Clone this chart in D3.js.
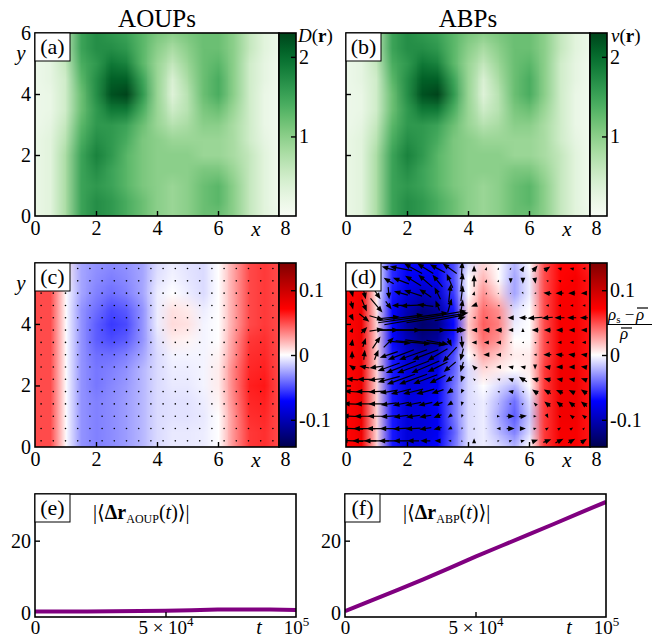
<!DOCTYPE html>
<html>
<head>
<meta charset="utf-8">
<script src="https://cdn.jsdelivr.net/npm/d3@7"></script>
<style>
  body { margin: 0; background: #fff; }
  svg { display: block; }
  text { font-family: "Liberation Serif", "DejaVu Serif", serif; fill: #000; }
</style>
</head>
<body>
<div id="chart"></div>
<script>
// ---------- data ----------
// heat-map nodes (x from 0 to 8, y from 6 down to 0, step 0.5)
var gridX = [0, 0.5, 1, 1.5, 2, 2.5, 3, 3.5, 4, 4.5, 5, 5.5, 6, 6.5, 7, 7.5, 8];
var gridY = [6, 5.5, 5, 4.5, 4, 3.5, 3, 2.5, 2, 1.5, 1, 0.5, 0];

// D(r) for the AOUPs, panel (a)
var diffusivityAOUP = [
  [0.2, 0.3, 0.7, 1.5, 1.7, 1.6, 1.5, 1.3, 1.1, 1.0, 1.1, 1.2, 1.2, 1.0, 0.6, 0.3, 0.15],
  [0.2, 0.3, 0.7, 1.5, 1.7, 1.7, 1.6, 1.3, 1.0, 0.8, 1.0, 1.2, 1.2, 1.0, 0.6, 0.3, 0.15],
  [0.15, 0.25, 0.6, 1.4, 1.6, 1.9, 1.8, 1.3, 0.9, 0.6, 0.9, 1.2, 1.3, 1.0, 0.5, 0.25, 0.1],
  [0.15, 0.25, 0.5, 1.3, 1.7, 2.1, 2.1, 1.5, 0.9, 0.4, 0.8, 1.2, 1.4, 1.0, 0.5, 0.25, 0.1],
  [0.15, 0.2, 0.5, 1.2, 1.7, 2.2, 2.3, 1.6, 0.9, 0.35, 0.7, 1.2, 1.4, 1.0, 0.5, 0.2, 0.1],
  [0.15, 0.2, 0.5, 1.2, 1.6, 1.9, 1.9, 1.4, 0.9, 0.5, 0.7, 1.1, 1.2, 0.9, 0.5, 0.2, 0.1],
  [0.15, 0.25, 0.6, 1.3, 1.6, 1.6, 1.5, 1.2, 0.9, 0.7, 0.8, 1.0, 1.0, 0.8, 0.5, 0.2, 0.1],
  [0.2, 0.3, 0.7, 1.4, 1.7, 1.6, 1.4, 1.1, 1.0, 0.9, 0.9, 0.9, 0.9, 0.8, 0.5, 0.25, 0.1],
  [0.2, 0.3, 0.8, 1.5, 1.8, 1.6, 1.3, 1.1, 1.0, 1.0, 1.0, 0.9, 0.9, 0.8, 0.6, 0.3, 0.1],
  [0.2, 0.3, 0.8, 1.5, 1.7, 1.5, 1.3, 1.1, 1.0, 1.0, 1.0, 1.1, 1.1, 0.9, 0.6, 0.3, 0.1],
  [0.2, 0.3, 0.8, 1.5, 1.6, 1.5, 1.3, 1.1, 1.0, 0.9, 1.0, 1.2, 1.3, 1.0, 0.6, 0.3, 0.1],
  [0.2, 0.3, 0.8, 1.5, 1.7, 1.6, 1.4, 1.2, 1.0, 0.9, 1.0, 1.2, 1.3, 1.0, 0.6, 0.3, 0.1],
  [0.2, 0.3, 0.8, 1.5, 1.7, 1.6, 1.4, 1.2, 1.0, 0.9, 1.0, 1.2, 1.2, 1.0, 0.6, 0.3, 0.15]
];
// v(r) for the ABPs, panel (b): looks the same as D(r) in the picture
var speedABP = diffusivityAOUP;

// (rho_s - rho)/rho, panel (c)
var densityAOUP = [
  [0.05, 0.05, 0.005, -0.025, -0.03, -0.032, -0.03, -0.025, -0.01, -0.005, -0.008, -0.01, 0.0, 0.025, 0.05, 0.055, 0.05],
  [0.05, 0.05, 0.003, -0.025, -0.032, -0.036, -0.032, -0.025, -0.008, -0.003, -0.007, -0.01, 0.0, 0.025, 0.05, 0.055, 0.05],
  [0.05, 0.05, 0.0, -0.025, -0.035, -0.04, -0.035, -0.025, -0.005, 0.0, -0.005, -0.01, 0.0, 0.025, 0.05, 0.055, 0.05],
  [0.05, 0.05, 0.0, -0.03, -0.04, -0.05, -0.045, -0.03, -0.005, 0.008, 0.005, -0.005, 0.0, 0.025, 0.05, 0.055, 0.05],
  [0.05, 0.05, 0.0, -0.03, -0.045, -0.055, -0.05, -0.03, -0.005, 0.01, 0.008, -0.003, 0.0, 0.025, 0.05, 0.055, 0.05],
  [0.05, 0.05, 0.0, -0.03, -0.045, -0.05, -0.045, -0.03, -0.008, 0.005, 0.003, -0.003, 0.0, 0.028, 0.055, 0.058, 0.05],
  [0.05, 0.05, 0.0, -0.03, -0.04, -0.04, -0.035, -0.025, -0.01, -0.003, -0.003, -0.003, 0.003, 0.03, 0.058, 0.06, 0.05],
  [0.05, 0.05, 0.0, -0.03, -0.038, -0.035, -0.03, -0.02, -0.01, -0.005, -0.005, -0.003, 0.005, 0.035, 0.06, 0.062, 0.05],
  [0.05, 0.05, 0.0, -0.03, -0.038, -0.033, -0.028, -0.02, -0.01, -0.006, -0.006, -0.003, 0.005, 0.035, 0.062, 0.065, 0.05],
  [0.05, 0.05, 0.0, -0.03, -0.035, -0.032, -0.027, -0.02, -0.01, -0.008, -0.008, -0.005, 0.003, 0.033, 0.06, 0.062, 0.05],
  [0.05, 0.05, 0.0, -0.03, -0.035, -0.032, -0.027, -0.02, -0.01, -0.008, -0.008, -0.006, 0.0, 0.03, 0.058, 0.06, 0.05],
  [0.05, 0.05, 0.0, -0.03, -0.035, -0.032, -0.027, -0.02, -0.01, -0.006, -0.006, -0.005, 0.0, 0.03, 0.055, 0.058, 0.05],
  [0.05, 0.05, 0.0, -0.03, -0.035, -0.032, -0.027, -0.02, -0.01, -0.006, -0.006, -0.005, 0.0, 0.03, 0.055, 0.058, 0.05]
];

// (rho_s - rho)/rho, panel (d)
var densityABP = [
  [0.07, 0.07, 0.0, -0.06, -0.07, -0.07, -0.07, -0.05, -0.01, 0.01, 0.0, -0.02, 0.0, 0.05, 0.07, 0.07, 0.06],
  [0.07, 0.075, 0.0, -0.06, -0.075, -0.08, -0.075, -0.05, 0.0, 0.02, 0.0, -0.025, -0.005, 0.05, 0.07, 0.075, 0.065],
  [0.07, 0.075, 0.0, -0.065, -0.085, -0.095, -0.09, -0.055, 0.0, 0.03, 0.01, -0.025, -0.005, 0.05, 0.072, 0.075, 0.065],
  [0.07, 0.08, 0.005, -0.07, -0.1, -0.12, -0.11, -0.065, 0.01, 0.04, 0.03, -0.01, 0.0, 0.05, 0.075, 0.075, 0.065],
  [0.07, 0.08, 0.01, -0.07, -0.11, -0.13, -0.12, -0.07, 0.015, 0.045, 0.035, -0.005, 0.0, 0.05, 0.075, 0.075, 0.065],
  [0.07, 0.08, 0.01, -0.07, -0.1, -0.12, -0.11, -0.065, 0.01, 0.04, 0.03, 0.0, 0.0, 0.05, 0.075, 0.075, 0.065],
  [0.07, 0.08, 0.01, -0.065, -0.09, -0.1, -0.09, -0.05, 0.0, 0.025, 0.015, 0.005, 0.005, 0.05, 0.075, 0.075, 0.065],
  [0.07, 0.08, 0.01, -0.065, -0.085, -0.09, -0.08, -0.045, -0.01, 0.01, 0.005, 0.0, 0.005, 0.055, 0.078, 0.078, 0.065],
  [0.07, 0.08, 0.01, -0.065, -0.085, -0.085, -0.075, -0.04, -0.01, 0.0, -0.01, -0.02, 0.0, 0.055, 0.078, 0.078, 0.065],
  [0.07, 0.08, 0.01, -0.065, -0.085, -0.08, -0.07, -0.04, -0.01, -0.005, -0.02, -0.04, -0.01, 0.055, 0.078, 0.078, 0.065],
  [0.07, 0.08, 0.01, -0.065, -0.085, -0.085, -0.075, -0.04, -0.01, -0.005, -0.025, -0.045, -0.015, 0.055, 0.078, 0.078, 0.065],
  [0.07, 0.08, 0.01, -0.065, -0.085, -0.085, -0.075, -0.045, -0.01, -0.005, -0.02, -0.035, -0.01, 0.055, 0.075, 0.075, 0.065],
  [0.07, 0.075, 0.01, -0.065, -0.085, -0.08, -0.07, -0.04, -0.01, -0.005, -0.01, -0.02, 0.0, 0.055, 0.075, 0.075, 0.065]
];

// flux arrows (panel d) on a 20 x 15 grid; AOUP flux (panel c) is too small to see: dots
var arrowX = [0.2, 0.6, 1.0, 1.4, 1.8, 2.2, 2.6, 3.0, 3.4, 3.8, 4.2, 4.6, 5.0, 5.4, 5.8, 6.2, 6.6, 7.0, 7.4, 7.8];
var arrowY = [5.8, 5.4, 5.0, 4.6, 4.2, 3.8, 3.4, 3.0, 2.6, 2.2, 1.8, 1.4, 1.0, 0.6, 0.2];
var fluxU = [
  [3, 4, 6, -14, -22, -18, -16, -15, -14, 1, 0, 1, 1, 1, 3, 5, 6, -4, -4, -3],
  [3, 4, 6, -10, -16, -16, -14, -10, -6, 2, 0, 1, 1, 0, 0, 1, -2, -3, -3, -3],
  [2, 3, 8, 1, -14, -18, -12, -6, 2, 2, 1, 0, 1, 1, 1, -2, -8, -8, -7, -6],
  [2, 5, 12, 6, -18, -25, -16, -4, 4, 2, -6, -1, -2, -2, -2, -2, -3, -3, -3, -3],
  [3, 10, 14, 22, 45, 70, 82, 62, 30, 8, -3, -3, -4, -6, -8, -15, -11, -10, -9, -8],
  [2, 6, 14, 20, 40, 66, 76, 58, 28, 6, -6, -7, -7, -5, 0, -7, -7, -7, -6, -6],
  [1, 3, 8, 10, 20, 35, 40, 22, 4, 1, -5, -5, -5, -2, -2, -2, -3, -4, -4, -4],
  [0, 1, 4, -18, -26, -28, -26, -20, -14, -3, -2, -6, -5, -2, -2, -3, -8, -8, -7, -6],
  [-6, -10, -14, -22, -30, -32, -28, -20, -12, -3, -4, -2, -5, -5, -5, 0, -6, -7, -6, -6],
  [-12, -14, -16, -22, -28, -28, -24, -16, -8, -2, -2, -1, -3, -5, -8, -7, -7, -6, -6, -6],
  [-16, -17, -16, -18, -20, -20, -18, -12, -6, -2, -1, -1, -2, -5, -2, -6, -7, -7, -6, -6],
  [-18, -18, -16, -16, -16, -16, -14, -10, -5, -1, -1, -1, 1, 2, 2, -3, -6, -6, -6, -6],
  [-20, -20, -18, -16, -15, -14, -12, -8, -4, -1, 0, 1, 3, 8, 8, 3, 2, -2, -4, -4],
  [-22, -22, -20, -18, -16, -15, -12, -8, -4, -1, 0, 1, -4, 8, 6, 3, 3, 3, 3, 2],
  [-22, -24, -25, -20, -15, -12, -10, -6, -3, 0, 0, 1, 2, 3, 4, 6, 8, 8, 7, 6]
];
var fluxV = [
  [-6, -6, -8, 4, 4, 10, 10, 8, 10, 14, 6, 3, 2, 2, 5, 6, 4, 1, 1, 0],
  [-7, -8, -10, 6, 6, 10, 12, 12, 14, 16, 12, 3, 2, -5, -6, -6, 1, 1, 0, 0],
  [-8, -12, -12, -12, 4, 6, 8, 12, 18, 16, 4, 2, 1, 1, -2, 0, 1, 0, 0, 0],
  [-8, -12, -14, -8, 0, -1, 2, 10, 14, 12, -2, 1, 1, 0, 0, 0, 0, 0, 0, 0],
  [-6, -8, -4, 2, 6, 10, 14, 10, 6, 2, 0, 0, 0, 0, 0, -1, -1, 0, 0, 0],
  [4, 6, 2, 0, 0, 0, -1, 0, 0, -2, 0, 0, 0, 0, 4, 0, 0, 0, 0, 0],
  [7, 9, 12, 10, -2, -3, -5, -4, -8, -12, 0, 0, 0, 0, 0, 1, 0, 0, 0, 0],
  [8, 10, 10, -6, -10, -10, -10, -12, -15, -12, 2, 0, 0, 0, 0, 0, 0, 1, 1, 1],
  [4, 2, -2, -8, -12, -12, -12, -10, -10, -10, 4, 1, 0, 1, 1, -5, 1, 0, 0, 1],
  [1, 0, -2, -6, -10, -10, -9, -8, -6, -6, 2, 1, 1, 2, 5, 2, 2, 1, 1, 2],
  [1, 0, -1, -3, -5, -5, -5, -4, -4, -4, 1, 1, 1, 1, 1, 4, 4, 3, 3, 4],
  [1, 0, 0, -2, -3, -3, -3, -3, -3, -4, 1, 0, 0, 0, 1, 3, 5, 5, 5, 5],
  [1, 0, 0, -1, -2, -2, -2, -3, -3, -3, 1, 0, 0, 0, 1, 0, -4, 2, 3, 3],
  [1, 0, 0, 0, -1, -1, -2, -2, -2, -2, 2, 0, 0, 0, 0, 1, 2, 2, 2, 2],
  [1, 0, 0, 0, 0, 0, 0, 0, 0, 2, 5, 1, 1, 1, 1, 2, 3, 4, 4, 4]
];

// mean displacement versus time, panels (e) and (f)
var times = [0, 1e4, 2e4, 3e4, 4e4, 5e4, 6e4, 7e4, 8e4, 9e4, 1e5];
var dispAOUP = [0.4, 0.4, 0.45, 0.5, 0.55, 0.65, 0.8, 0.95, 1.0, 0.95, 0.85];
var dispABP = [0.5, 3.4, 6.3, 9.3, 12.4, 15.6, 18.6, 21.6, 24.6, 27.7, 30.7];

// tick values
var mapXTicks = [0, 2, 4, 6, 8];
var mapYTicksTop = [0, 2, 4, 6];
var mapYTicksMid = [0, 2, 4];
var greenTicks = [1, 2];
var densTicks = [-0.1, 0, 0.1];
var timeTicks = [0, 5e4, 1e5];
var dispTicks = [0, 20];

// ---------- drawing ----------
var FONT = '"Liberation Serif", "DejaVu Serif", serif';
var svg = d3.select("#chart").append("svg").attr("width", 652).attr("height", 639)
  .style("font-family", FONT);
var defs = svg.append("defs");

var greens = d3.scaleSequential(d3.interpolateGreens).domain([0, 2.3]);
var seismic = d3.scaleLinear()
  .domain([-0.142, -0.071, 0, 0.071, 0.142])
  .range(["#00004d", "#0000ff", "#ffffff", "#ff0000", "#800000"])
  .clamp(true);
var fluxToPx = d3.scaleLinear().domain([0, 10]).range([0, 10]);

function gridImage(grid, color) {
  var rows = grid.length, cols = grid[0].length;
  var cv = document.createElement("canvas");
  cv.width = cols;
  cv.height = rows;
  var ctx = cv.getContext("2d");
  var img = ctx.createImageData(cols, rows);
  grid.forEach(function (row, j) {
    row.forEach(function (v, i) {
      var c = d3.rgb(color(v));
      var k = 4 * (j * cols + i);
      img.data[k] = c.r;
      img.data[k + 1] = c.g;
      img.data[k + 2] = c.b;
      img.data[k + 3] = 255;
    });
  });
  ctx.putImageData(img, 0, 0);
  return cv.toDataURL();
}

// quiver arrow, centred on the grid point (pivot = middle)
function arrowPath(cx, cy, u, v) {
  var L = Math.hypot(u, v);
  if (L < 0.5) return "";
  var a = Math.atan2(-v, u);
  var hl = 6.5, hw = 2.6, sw = 0.6;
  var s = Math.min(1, L / hl);
  hl *= s; hw *= s; sw *= Math.max(s, 0.6);
  var x0 = -L / 2, x1 = L / 2 - hl, x2 = L / 2;
  var pts = [[x0, -sw], [x1, -sw], [x1, -hw], [x2, 0], [x1, hw], [x1, sw], [x0, sw]];
  var ca = Math.cos(a), sa = Math.sin(a);
  return "M" + pts.map(function (p) {
    return [(cx + p[0] * ca - p[1] * sa).toFixed(2), (cy + p[0] * sa + p[1] * ca).toFixed(2)].join(",");
  }).join("L") + "Z";
}

function styleAxis(g, size) {
  g.attr("font-family", FONT).attr("font-size", size);
  g.select(".domain").remove();
  g.selectAll(".tick line").attr("stroke", "#000").attr("stroke-width", 1.4);
  g.selectAll(".tick text").attr("font-size", size).attr("fill", "#000")
    .style("font-family", FONT);
}

function labelBox(x0, y0, txt) {
  svg.append("rect").attr("x", x0).attr("y", y0).attr("width", 35).attr("height", 28)
    .attr("fill", "#fff").attr("stroke", "#000").attr("stroke-width", 1);
  svg.append("text").attr("x", x0 + 17.5).attr("y", y0 + 21).attr("text-anchor", "middle")
    .attr("font-size", 22).text(txt);
}

function drawMap(p) {
  var x = d3.scaleLinear().domain([0, 8]).range([p.left, p.left + p.w]);
  var y = d3.scaleLinear().domain([0, p.yMax]).range([p.top + p.h, p.top]);
  var clipId = "clip-" + p.name;
  defs.append("clipPath").attr("id", clipId).append("rect")
    .attr("x", p.left).attr("y", p.top).attr("width", p.w).attr("height", p.h);

  var hx = (gridX[1] - gridX[0]) / 2, hy = (gridY[0] - gridY[1]) / 2;
  svg.append("image")
    .attr("href", gridImage(p.grid, p.color))
    .attr("x", x(gridX[0] - hx))
    .attr("y", y(gridY[0] + hy))
    .attr("width", x(gridX[gridX.length - 1] + hx) - x(gridX[0] - hx))
    .attr("height", y(gridY[gridY.length - 1] - hy) - y(gridY[0] + hy))
    .attr("preserveAspectRatio", "none")
    .attr("clip-path", "url(#" + clipId + ")");

  var pts = [];
  arrowY.forEach(function (yy, j) {
    arrowX.forEach(function (xx, i) {
      pts.push({ x: xx, y: yy, u: fluxU[j][i], v: fluxV[j][i] });
    });
  });
  var mg = svg.append("g").attr("clip-path", "url(#" + clipId + ")");
  if (p.flux === "arrows") {
    mg.selectAll("path").data(pts).join("path")
      .attr("d", function (d) { return arrowPath(x(d.x), y(d.y), fluxToPx(d.u), fluxToPx(d.v)); })
      .attr("fill", "#000");
  } else if (p.flux === "dots") {
    mg.selectAll("circle").data(pts).join("circle")
      .attr("cx", function (d) { return x(d.x); })
      .attr("cy", function (d) { return y(d.y); })
      .attr("r", 0.8).attr("fill", "#000");
  }

  // axes with inward ticks
  var gx = svg.append("g").attr("transform", "translate(0," + (p.top + p.h) + ")")
    .call(d3.axisBottom(x).tickValues(mapXTicks).tickSize(-5).tickPadding(5).tickFormat(d3.format("d")));
  styleAxis(gx, 20);
  gx.selectAll(".tick text").filter(function (d) { return d === 8; }).attr("dx", 6);
  gx.selectAll(".tick line").filter(function (d) { return d === 0 || d === 8; }).remove();

  var gy = svg.append("g").attr("transform", "translate(" + p.left + ",0)")
    .call(d3.axisLeft(y).tickValues(p.yTicks).tickSize(-5).tickPadding(4).tickFormat(d3.format("d")));
  styleAxis(gy, 20);
  gy.selectAll(".tick line").filter(function (d) { return d === 0 || d === 6; }).remove();
  if (!p.yLabels) gy.selectAll(".tick text").remove();

  svg.append("text").attr("x", p.left + 221).attr("y", p.top + p.h + 20)
    .attr("text-anchor", "middle").attr("font-size", 21).attr("font-style", "italic").text("x");
  if (p.yLabels) {
    svg.append("text").attr("x", 21).attr("y", p.top + 27)
      .attr("text-anchor", "middle").attr("font-size", 21).attr("font-style", "italic").text("y");
  }

  svg.append("rect").attr("x", p.left).attr("y", p.top).attr("width", p.w).attr("height", p.h)
    .attr("fill", "none").attr("stroke", "#000").attr("stroke-width", 1.6);

  // colour bar
  var cbx = p.left + p.w, cbw = 17;
  var dom = p.color.domain();
  var cs = d3.scaleLinear().domain([dom[0], dom[dom.length - 1]]).range([p.top + p.h, p.top]);
  var gid = "grad-" + p.name;
  var grad = defs.append("linearGradient").attr("id", gid)
    .attr("x1", 0).attr("y1", 1).attr("x2", 0).attr("y2", 0);
  d3.range(0, 1.0001, 0.05).forEach(function (t) {
    var val = cs.domain()[0] + t * (cs.domain()[1] - cs.domain()[0]);
    grad.append("stop").attr("offset", t).attr("stop-color", p.color(val));
  });
  svg.append("rect").attr("x", cbx).attr("y", p.top).attr("width", cbw).attr("height", p.h)
    .attr("fill", "url(#" + gid + ")").attr("stroke", "#000").attr("stroke-width", 1.6);
  var gc = svg.append("g").attr("transform", "translate(" + (cbx + cbw) + ",0)")
    .call(d3.axisRight(cs).tickValues(p.cbTicks).tickSize(-5).tickPadding(3)
      .tickFormat(function (d) { return d === 0 ? "0" : (d < 0 ? "-" : "") + d3.format("~g")(Math.abs(d)); }));
  styleAxis(gc, 20);

  labelBox(p.left, p.top, p.label);
  return { x: x, y: y };
}

drawMap({ name: "a", left: 35, top: 33, w: 244, h: 183, yMax: 6, grid: diffusivityAOUP,
  color: greens, yTicks: mapYTicksTop, yLabels: true, flux: "none", cbTicks: greenTicks, label: "(a)" });
drawMap({ name: "b", left: 346, top: 33, w: 244, h: 183, yMax: 6, grid: speedABP,
  color: greens, yTicks: mapYTicksTop, yLabels: false, flux: "none", cbTicks: greenTicks, label: "(b)" });
drawMap({ name: "c", left: 35, top: 263, w: 244, h: 184, yMax: 5.98, grid: densityAOUP,
  color: seismic, yTicks: mapYTicksMid, yLabels: true, flux: "dots", cbTicks: densTicks, label: "(c)" });
drawMap({ name: "d", left: 346, top: 263, w: 244, h: 184, yMax: 5.98, grid: densityABP,
  color: seismic, yTicks: mapYTicksMid, yLabels: false, flux: "arrows", cbTicks: densTicks, label: "(d)" });

// titles
svg.append("text").attr("x", 157).attr("y", 27).attr("text-anchor", "middle").attr("font-size", 25).text("AOUPs");
svg.append("text").attr("x", 468).attr("y", 27).attr("text-anchor", "middle").attr("font-size", 25).text("ABPs");

// colour-bar labels
function fieldLabel(x0, sym) {
  var t = svg.append("text").attr("x", x0).attr("y", 42).attr("font-size", 19);
  t.append("tspan").attr("font-style", "italic").text(sym);
  t.append("tspan").text("(");
  t.append("tspan").attr("font-weight", "bold").text("r");
  t.append("tspan").text(")");
}
fieldLabel(298, "D");
fieldLabel(611, "v");

var fr = svg.append("text").attr("x", 608).attr("y", 320).attr("font-size", 17);
fr.append("tspan").attr("font-style", "italic").text("ρ");
fr.append("tspan").attr("font-size", 11).attr("dy", 3).text("s");
fr.append("tspan").attr("dy", -3).text(" − ");
svg.append("text").attr("x", 636).attr("y", 320).attr("font-size", 17).attr("font-style", "italic").text("ρ");
svg.append("line").attr("x1", 637).attr("x2", 648).attr("y1", 308).attr("y2", 308).attr("stroke", "#000").attr("stroke-width", 1.2);
svg.append("line").attr("x1", 607).attr("x2", 652).attr("y1", 324.5).attr("y2", 324.5).attr("stroke", "#000").attr("stroke-width", 1.2);
svg.append("text").attr("x", 620).attr("y", 339).attr("font-size", 17).attr("font-style", "italic").text("ρ");
svg.append("line").attr("x1", 621).attr("x2", 632).attr("y1", 328).attr("y2", 328).attr("stroke", "#000").attr("stroke-width", 1.2);

// ---------- displacement panels ----------
function drawLine(p) {
  var x = d3.scaleLinear().domain([0, 1e5]).range([p.left, p.left + 261]);
  var y = d3.scaleLinear().domain([-1.1, 32.9]).range([617, 494]);
  var clipId = "clip-" + p.name;
  defs.append("clipPath").attr("id", clipId).append("rect")
    .attr("x", p.left).attr("y", 494).attr("width", 261).attr("height", 123);

  svg.append("path").datum(times)
    .attr("d", d3.line().x(function (d) { return x(d); }).y(function (d, i) { return y(p.values[i]); }))
    .attr("fill", "none").attr("stroke", "#800080").attr("stroke-width", 4)
    .attr("clip-path", "url(#" + clipId + ")");

  var gx = svg.append("g").attr("transform", "translate(0,617)")
    .call(d3.axisBottom(x).tickValues(timeTicks).tickSize(-5).tickFormat(""));
  styleAxis(gx, 20);
  gx.selectAll(".tick line").filter(function (d) { return d === 0 || d === 1e5; }).remove();
  gx.selectAll(".tick").each(function (d) {
    var t = d3.select(this).append("text").attr("y", 17).attr("text-anchor", "middle")
      .attr("font-size", 19).attr("fill", "#000");
    if (d === 0) t.text("0");
    else {
      t.append("tspan").text(d === 1e5 ? "10" : "5 × 10");
      t.append("tspan").attr("font-size", 13).attr("dy", -8).text(d === 1e5 ? "5" : "4");
    }
  });
  var gy = svg.append("g").attr("transform", "translate(" + p.left + ",0)")
    .call(d3.axisLeft(y).tickValues(dispTicks).tickSize(-5).tickPadding(4));
  styleAxis(gy, 20);
  gy.selectAll(".tick line").filter(function (d) { return d === 0; }).remove();

  svg.append("text").attr("x", p.left + 224).attr("y", 634).attr("text-anchor", "middle")
    .attr("font-size", 20).attr("font-style", "italic").text("t");

  svg.append("rect").attr("x", p.left).attr("y", 494).attr("width", 261).attr("height", 123)
    .attr("fill", "none").attr("stroke", "#000").attr("stroke-width", 1.6);

  labelBox(p.left, 494, p.label);
  var t = svg.append("text").attr("x", p.left + 58).attr("y", 519).attr("font-size", 20);
  t.append("tspan").text("|⟨");
  t.append("tspan").attr("font-weight", "bold").text("Δr");
  t.append("tspan").attr("font-size", 12).attr("dy", 4).text(p.sub);
  t.append("tspan").attr("dy", -4).text("(");
  t.append("tspan").attr("font-style", "italic").text("t");
  t.append("tspan").text(")⟩|");
}

drawLine({ name: "e", left: 35, values: dispAOUP, sub: "AOUP", label: "(e)" });
drawLine({ name: "f", left: 345, values: dispABP, sub: "ABP", label: "(f)" });
</script>
</body>
</html>
